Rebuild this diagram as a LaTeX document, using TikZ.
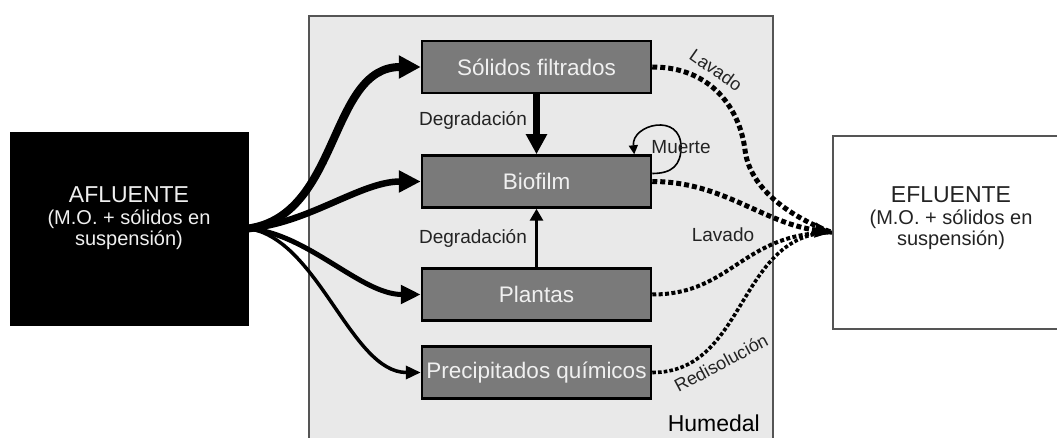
\documentclass[tikz,border=0pt]{standalone}
\usepackage{fontspec}
\setmainfont{Liberation Sans}
\usetikzlibrary{arrows.meta}
\definecolor{wetland}{RGB}{233,233,233}
\definecolor{boxgray}{RGB}{122,122,122}
\definecolor{framegray}{RGB}{85,85,85}
\definecolor{boxtext}{RGB}{240,240,240}
\definecolor{labeltext}{RGB}{35,35,35}
\begin{document}
\begin{tikzpicture}[x=1pt,y=-1pt,
  stage/.style={draw=black, line width=2.5pt, fill=boxgray, text=boxtext,
    minimum width=229pt, minimum height=52pt, inner sep=0pt,
    font=\fontsize{22.5}{26}\selectfont},
  flowlabel/.style={text=labeltext, inner sep=0pt, font=\fontsize{19}{22}\selectfont},
  outflow/.style={line width=#1, dash pattern=on #1 off 0.6*#1},
  endtext/.style={align=center, inner sep=0pt, font=\fontsize{20}{21}\selectfont}
]
\useasboundingbox (0,0) rectangle (1057,438);
\clip (0,0) rectangle (1057,438);

% wetland frame
\node (hum) [draw=framegray, line width=2pt, fill=wetland, anchor=north west,
  minimum width=464pt, minimum height=440pt, inner sep=0pt] at (308,15) {};
\node (humlabel) [flowlabel, anchor=east, text=black, font=\fontsize{23}{26}\selectfont] at (760,423) {Humedal};

% inflow and outflow boxes
\node (afl) [fill=black, draw=black, minimum width=238pt, minimum height=193pt, inner sep=0pt] at (129,228.5) {};
\node (afltext) [endtext, text=boxtext] at (129,218)
  {{\fontsize{23}{27}\selectfont AFLUENTE}\\[1pt](M.O. + sólidos en\\suspensión)};
\node (efl) [fill=white, draw=framegray, line width=2pt, minimum width=236pt, minimum height=193pt, inner sep=0pt] at (951,232.5) {};
\node (efltext) [endtext, text=labeltext] at (951,218)
  {{\fontsize{23}{27}\selectfont EFLUENTE}\\[1pt](M.O. + sólidos en\\suspensión)};

% compartments of the wetland
\node (sol) [stage] at (536.5,67) {Sólidos filtrados};
\node (bio) [stage] at (536.5,181.5) {Biofilm};
\node (pla) [stage] at (536.5,294.5) {Plantas};
\node (pre) [stage] at (536.5,372.5) {Precipitados químicos};

% inflow to each compartment
\draw[line width=8pt, -{Triangle[length=22pt,width=22pt]}]
  (afl.east) .. controls +(92,-13) and +(-92,0) .. (sol.west);
\draw[line width=6.5pt, -{Triangle[length=22pt,width=21pt]}]
  (afl.east) .. controls +(60,-5) and +(-60,0) .. (bio.west);
\draw[line width=5pt, -{Triangle[length=20pt,width=18pt]}]
  (afl.east) .. controls +(60,5) and +(-60,0) .. (pla.west);
\draw[line width=3.5pt, -{Triangle[length=15pt,width=13pt]}]
  (afl.east) .. controls +(70,10) and +(-70,0) .. (pre.west);

% degradation into the biofilm
\draw[line width=7pt, -{Triangle[length=20pt,width=20pt]}] (sol.south) -- (bio.north);
\draw[line width=3.5pt, -{Triangle[length=12pt,width=13pt]}] (pla.north) -- (bio.south);
\node (deg1) [flowlabel] at (473,120) {Degradación};
\node (deg2) [flowlabel] at (473,238) {Degradación};

% biofilm decay loop
\coordinate (loopR) at (681,147);
\draw[line width=1.6pt, -{Triangle[length=9pt,width=9pt]}]
  ([yshift=8pt]bio.east) .. controls +(20,0) and +(0,18) .. (loopR)
  .. controls +(0,-35) and +(-3,-30) .. ([xshift=-18pt]bio.north east);
\node (muerte) [flowlabel] at (681,147) {Muerte};

% outflow to the effluent
\coordinate (solbend) at (745,150);
\draw[outflow=5pt] (sol.east) .. controls +(60,0) and +(-5,-40) .. (solbend)
  .. controls +(5,40) and +(-40,-15) .. (efl.west);
\draw[outflow=4pt] (pla.east) .. controls +(80,0) and +(-90,0) .. (efl.west);
\draw[outflow=3.6pt] (pre.east) .. controls +(95,0) and +(-95,0) .. (efl.west);
\draw[outflow=5pt, -{Triangle[length=17pt,width=14pt]}]
  (bio.east) .. controls +(70,0) and +(-70,-10) .. (efl.west);

\node (lav1) [flowlabel, rotate=-35, font=\fontsize{18}{20}\selectfont] at (716,70) {Lavado};
\node (lav2) [flowlabel] at (723,235) {Lavado};
\node (redis) [flowlabel, rotate=28, font=\fontsize{18}{20}\selectfont] at (721,363) {Redisolución};
\end{tikzpicture}
\end{document}
